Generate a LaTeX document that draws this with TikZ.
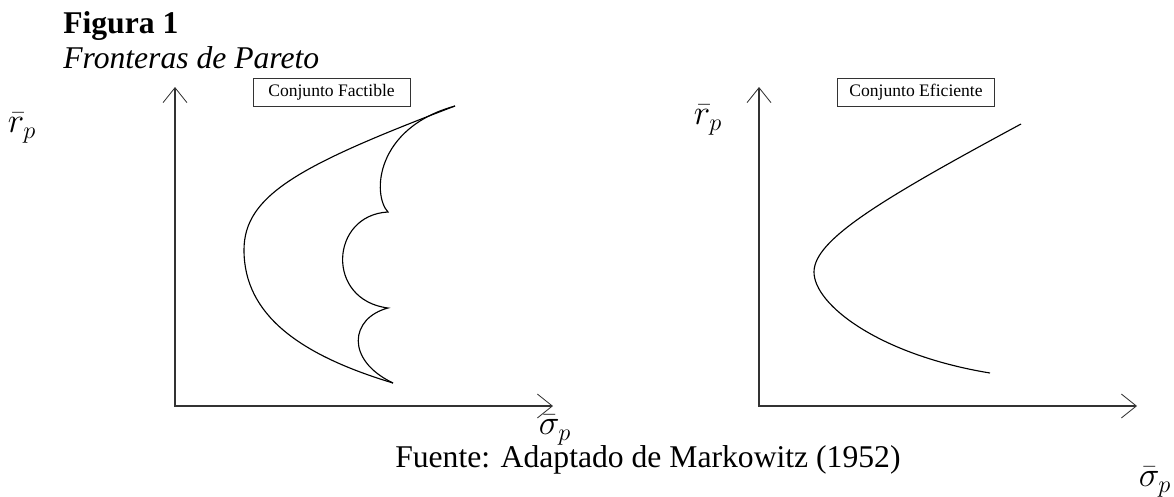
\documentclass[tikz,border=0pt]{standalone}
\usepackage{fontspec}
\setmainfont{Liberation Serif}
\usetikzlibrary{arrows.meta,positioning}

\begin{document}
\begin{tikzpicture}[
  x=0.025cm, y=-0.025cm,
  every node/.style={font=\fontsize{22.5}{27}\selectfont},
  axis/.style={draw=black!80,line width=1pt,
               {Straight Barb[length=0.375cm,width=0.6cm,line width=0.6pt]}-{Straight Barb[length=0.375cm,width=0.6cm,line width=0.6pt]}},
  setbox/.style={draw=black!80,line width=0.6pt,minimum width=3.925cm,minimum height=0.7cm,
                 inner sep=0pt,font=\fontsize{12.5}{14}\selectfont},
  varlabel/.style={font=\fontsize{27}{30}\selectfont},
  frontier/.style={line width=0.8pt},
]
  \useasboundingbox (0,0) rectangle (1174,496);
  % Caption
  \node[anchor=base west,inner sep=0pt] (fig) at (63,33) {\textbf{Figura 1}};
  \node[anchor=base west,inner sep=0pt] (title) at (63,68) {\textit{Fronteras de Pareto}};
  % Axes (left)
  \coordinate (oL) at (175,406);
  \coordinate (yL) at (175,87);
  \coordinate (xL) at (553,406);
  \draw[axis] (yL) -- (oL) -- (xL);
  % Axes (right)
  \coordinate (oR) at (759,406);
  \coordinate (yR) at (759,87);
  \coordinate (xR) at (1137,406);
  \draw[axis] (yR) -- (oR) -- (xR);
  % Axis labels
  \node[varlabel] (rL) at (22,128) {$\bar{r}_p$};
  \node[varlabel] (sL) at (555,430) {$\bar{\sigma}_p$};
  \node[varlabel] (rR) at (708,120) {$\bar{r}_p$};
  \node[varlabel] (sR) at (1155,482) {$\bar{\sigma}_p$};
  % Boxes
  \node[setbox] (boxF) at (331.5,92) {Conjunto Factible};
  \node[setbox] (boxE) at (916,92) {Conjunto Eficiente};
  % Feasible set
  \coordinate (tip) at (455,106);
  \coordinate (bot) at (393,383);
  \coordinate (cuspA) at (388,212);
  \coordinate (cuspB) at (388,308);
  \draw[frontier] (tip) .. controls (300,165) and (244,195) .. (244,250)
                        .. controls (244,315) and (300,355) .. (bot);
  \draw[frontier] (tip) .. controls (375,128) and (372,195) .. (cuspA)
                        .. controls (330,215) and (325,300) .. (cuspB)
                        .. controls (350,318) and (345,360) .. (bot);
  % Efficient set
  \draw[frontier] (1021,124) .. controls (880,200) and (814,240) .. (814,272)
                             .. controls (814,305) and (880,355) .. (990,373);
  % Source
  \node[anchor=base west,inner sep=0pt] (src) at (395,467) {Fuente: Adaptado de Markowitz (1952)};
\end{tikzpicture}
\end{document}
